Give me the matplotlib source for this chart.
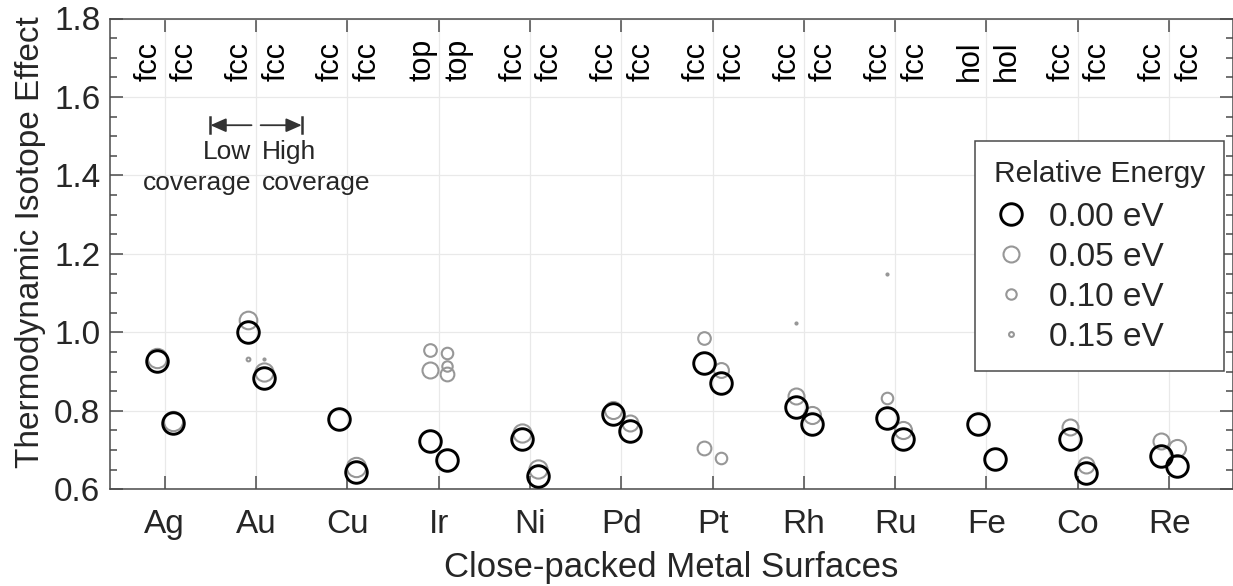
import matplotlib.pyplot as plt
from matplotlib.lines import Line2D

plt.rcParams["font.family"] = ["Liberation Sans", "DejaVu Sans"]

TEXT = "#262626"
AXIS = "#4a4a4a"
GREY = "#979797"

metals = ["Ag", "Au", "Cu", "Ir", "Ni", "Pd", "Pt", "Rh", "Ru", "Fe", "Co", "Re"]
site_low = ["fcc", "fcc", "fcc", "top", "fcc", "fcc", "fcc", "fcc", "fcc", "hol", "fcc", "fcc"]
site_high = ["fcc", "fcc", "fcc", "top", "fcc", "fcc", "fcc", "fcc", "fcc", "hol", "fcc", "fcc"]

# isotope effect of the lowest-energy configuration, low / high coverage
tie_low = [0.928, 1.000, 0.780, 0.722, 0.728, 0.792, 0.922, 0.809, 0.783, 0.767, 0.728, 0.685]
tie_high = [0.769, 0.884, 0.645, 0.675, 0.634, 0.749, 0.871, 0.767, 0.728, 0.677, 0.641, 0.660]

# higher-lying configurations (relative energy in eV)
alt_metal = ["Ag", "Ag", "Au", "Au", "Au", "Au", "Cu", "Ir", "Ir", "Ir", "Ir", "Ir",
             "Ni", "Ni", "Pd", "Pd", "Pt", "Pt", "Pt", "Pt", "Rh", "Rh", "Rh",
             "Ru", "Ru", "Ru", "Co", "Co", "Re", "Re"]
alt_coverage = ["low", "high", "low", "low", "high", "high", "high", "low", "low", "high", "high", "high",
                "low", "high", "low", "high", "low", "low", "high", "high", "low", "low", "high",
                "low", "low", "high", "low", "high", "low", "high"]
alt_tie = [0.935, 0.773, 1.031, 0.933, 0.900, 0.932, 0.658, 0.956, 0.903, 0.947, 0.913, 0.894,
           0.743, 0.651, 0.802, 0.770, 0.986, 0.705, 0.905, 0.679, 0.837, 1.024, 0.790,
           0.832, 1.150, 0.750, 0.758, 0.662, 0.722, 0.705]
alt_energy = [0.02, 0.02, 0.035, 0.16, 0.03, 0.175, 0.02, 0.08, 0.05, 0.09, 0.10, 0.07,
              0.03, 0.03, 0.04, 0.05, 0.08, 0.07, 0.06, 0.09, 0.05, 0.175, 0.04,
              0.09, 0.175, 0.04, 0.05, 0.05, 0.05, 0.04]

legend_energy = [0.00, 0.05, 0.10, 0.15]

OFFSET = {"low": -0.09, "high": 0.09}


def marker_style(energy):
    size = max(15.5 - 80.0 * energy, 0.6)
    if energy == 0:
        return dict(ms=size, mec="black", mew=2.1)
    return dict(ms=size, mec=GREY, mew=1.5)


fig = plt.figure(figsize=(12.33, 5.86), dpi=100)
ax = fig.add_axes([110 / 1233, 96.7 / 586, 1 - 110 / 1233, 470.8 / 586])

xpos = {m: i + 1 for i, m in enumerate(metals)}

# excited configurations first (largest energy at the back), ground state on top
order = sorted(range(len(alt_tie)), key=lambda k: -alt_energy[k])
for k in order:
    x = xpos[alt_metal[k]] + OFFSET[alt_coverage[k]]
    ax.plot(x, alt_tie[k], "o", mfc="none", zorder=3, **marker_style(alt_energy[k]))

for i, m in enumerate(metals):
    ax.plot(xpos[m] + OFFSET["low"], tie_low[i], "o", mfc="none", zorder=4, **marker_style(0))
    ax.plot(xpos[m] + OFFSET["high"], tie_high[i], "o", mfc="none", zorder=4, **marker_style(0))

# adsorption site labels along the top
for i, m in enumerate(metals):
    for dx, s in ((-0.18, site_low[i]), (0.22, site_high[i])):
        ax.text(xpos[m] + dx, 1.640, s, rotation=90, ha="center", va="bottom",
                fontsize=22, color="black")

# low / high coverage key
ay = 1.528
for tail, tip in ((1.95, 1.50), (2.05, 2.50)):
    ax.annotate("", xy=(tip, ay), xytext=(tail, ay),
                arrowprops=dict(arrowstyle="-|>,head_length=0.95,head_width=0.42",
                                color="#333333", lw=1.3, shrinkA=0, shrinkB=0))
    ax.plot([tip, tip], [ay - 0.02, ay + 0.02], color="#333333", lw=1.8)
ax.text(1.945, 1.49, "Low\ncoverage", ha="right", va="top", fontsize=19,
        color=TEXT, linespacing=1.35)
ax.text(2.06, 1.49, "High\ncoverage", ha="left", va="top", fontsize=19,
        color=TEXT, linespacing=1.35)

ax.set_xlim(0.4, 12.7)
ax.set_ylim(0.6, 1.8)
ax.set_xticks(range(1, len(metals) + 1))
ax.set_xticklabels(metals)
ax.set_yticks([0.6, 0.8, 1.0, 1.2, 1.4, 1.6, 1.8])
ax.set_yticklabels(["0.6", "0.8", "1.0", "1.2", "1.4", "1.6", "1.8"])
ax.set_yticks([0.6 + 0.05 * j for j in range(25)], minor=True)

ax.tick_params(axis="both", which="both", direction="in", color=AXIS, width=1.1,
               top=True, right=True, labelcolor=TEXT)
ax.tick_params(axis="both", which="major", length=9.5, labelsize=24)
ax.tick_params(axis="y", which="minor", length=5)
ax.tick_params(axis="x", which="major", pad=14)
ax.tick_params(axis="y", which="major", pad=7)
for sp in ax.spines.values():
    sp.set_color(AXIS)
    sp.set_linewidth(1.1)

ax.grid(True, which="major", color="#e9e9e9", lw=0.9)
ax.set_axisbelow(True)

ax.set_xlabel("Close-packed Metal Surfaces", fontsize=25, color=TEXT, labelpad=8)
ax.set_ylabel("Thermodynamic Isotope Effect", fontsize=24, color=TEXT, labelpad=6)
ax.yaxis.label.set_y(0.525)

handles = [Line2D([], [], ls="", marker="o", mfc="none", **marker_style(e)) for e in legend_energy]
labels = [f"{e:.2f} eV" for e in legend_energy]
leg = ax.legend(handles, labels, title="Relative Energy", loc="upper right",
                bbox_to_anchor=(1224 / 1233, 1 - 141 / 586), bbox_transform=fig.transFigure,
                borderaxespad=0, fontsize=24, title_fontsize=21.5, alignment="left",
                handlelength=1.0, handletextpad=0.65, labelspacing=0.27, borderpad=0.56,
                frameon=True, fancybox=False, framealpha=1, edgecolor=AXIS)
# a little more room between the title and the entries
leg._legend_box.sep = 10
leg.get_frame().set_linewidth(1.1)
for t in leg.get_texts():
    t.set_color(TEXT)
leg.get_title().set_color(TEXT)

fig.savefig("out.png", dpi=100, facecolor="white")
